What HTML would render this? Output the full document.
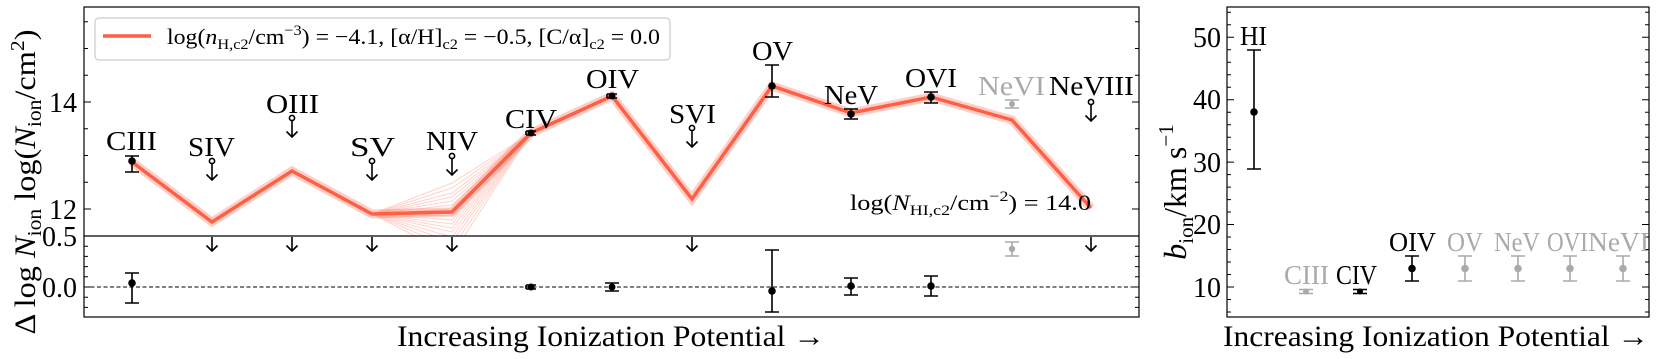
<!DOCTYPE html>
<html><head><meta charset="utf-8"><style>
html,body{margin:0;padding:0;background:#fff;}
svg{display:block;}
text{font-family:"Liberation Serif","DejaVu Serif",serif;}
</style></head><body>
<svg width="1661" height="359" viewBox="0 0 1661 359" xmlns="http://www.w3.org/2000/svg">
<defs>
<clipPath id="cu"><rect x="84" y="7" width="1055" height="229"/></clipPath>
</defs>
<g clip-path="url(#cu)" stroke="#ff5f45" stroke-width="1" fill="none" opacity="0.28">
<polyline points="372,214 452,183 531,133"/>
<polyline points="372,214 452,188 531,133"/>
<polyline points="372,214 452,193 531,133"/>
<polyline points="372,214 452,197 531,133"/>
<polyline points="372,214 452,201 531,133"/>
<polyline points="372,214 452,205 531,133"/>
<polyline points="372,214 452,209 531,133"/>
<polyline points="372,214 452,216 531,133"/>
<polyline points="372,214 452,220 531,133"/>
<polyline points="372,214 452,224 531,133"/>
<polyline points="372,214 452,228 531,133"/>
<polyline points="372,214 452,232 531,133"/>
<polyline points="372,214 452,237 531,133"/>
<polyline points="372,214 452,242 531,133"/>
<polyline points="372,214 452,248 531,133"/>
<polyline points="372,214 452,255 531,133"/>
</g>
<g clip-path="url(#cu)" fill="none">
<polyline points="132,162 212,222 292,171 372,214 452,212 531,133 612,96 692,199 772,86 851,113 931,97 1012,120 1091,208" stroke="#ff5f45" stroke-width="9" opacity="0.3"/>
<polyline points="132,162 212,222 292,171 372,214 452,212 531,133 612,96 692,199 772,86 851,113 931,97 1012,120 1091,208" stroke="#ff5f45" stroke-width="3.5"/>
</g>
<g fill="none" stroke="#000" stroke-width="1.2">
<rect x="84" y="7" width="1055" height="310"/>
<line x1="84" y1="236" x2="1139" y2="236"/>
<rect x="1227" y="7" width="422" height="310"/>
</g>
<line x1="84" y1="287" x2="1139" y2="287" stroke="#000" stroke-width="1" stroke-dasharray="4,2.5"/>
<g stroke="#000" stroke-width="1">
<path d="M84,209h7M84,102h7M1139,209h-7M1139,102h-7"/>
<path d="M84,182.3h4M84,155.5h4M84,128.8h4M84,75.3h4M84,48.5h4M84,21.8h4M1139,182.3h-4M1139,155.5h-4M1139,128.8h-4M1139,75.3h-4M1139,48.5h-4M1139,21.8h-4"/>
<path d="M84,287h7M1139,287h-7M84,236h7M1139,236h-7"/>
<path d="M84,246.2h4M84,256.4h4M84,266.6h4M84,276.8h4M84,297.2h4M84,307.4h4M1139,246.2h-4M1139,256.4h-4M1139,266.6h-4M1139,276.8h-4M1139,297.2h-4M1139,307.4h-4"/>
<path d="M1227,37.3h7M1227,99.7h7M1227,162.1h7M1227,224.5h7M1227,287h7M1649,37.3h-7M1649,99.7h-7M1649,162.1h-7M1649,224.5h-7M1649,287h-7"/>
<path d="M1227,12.3h4M1227,24.8h4M1227,49.8h4M1227,62.3h4M1227,74.8h4M1227,87.2h4M1227,112.2h4M1227,124.7h4M1227,137.2h4M1227,149.6h4M1227,174.6h4M1227,187.1h4M1227,199.6h4M1227,212.0h4M1227,237.0h4M1227,249.5h4M1227,262.0h4M1227,274.5h4M1227,299.5h4M1227,312h4"/>
<path d="M1649,12.3h-4M1649,24.8h-4M1649,49.8h-4M1649,62.3h-4M1649,74.8h-4M1649,87.2h-4M1649,112.2h-4M1649,124.7h-4M1649,137.2h-4M1649,149.6h-4M1649,174.6h-4M1649,187.1h-4M1649,199.6h-4M1649,212.0h-4M1649,237.0h-4M1649,249.5h-4M1649,262.0h-4M1649,274.5h-4M1649,299.5h-4M1649,312h-4"/>
</g>
<g font-size="28" text-anchor="end" fill="#000">
<text x="77" y="112">14</text>
<text x="77" y="219">12</text>
<text x="77" y="246">0.5</text>
<text x="77" y="297">0.0</text>
<text x="1221" y="47">50</text>
<text x="1221" y="109">40</text>
<text x="1221" y="172">30</text>
<text x="1221" y="234">20</text>
<text x="1221" y="297">10</text>
</g>
<text transform="translate(35,182) rotate(-90)" font-size="30" text-anchor="middle" textLength="305" lengthAdjust="spacingAndGlyphs">Δ log <tspan font-style="italic">N</tspan><tspan font-size="20" dy="6">ion</tspan><tspan dy="-6"> log(</tspan><tspan font-style="italic">N</tspan><tspan font-size="20" dy="6">ion</tspan><tspan dy="-6">/cm</tspan><tspan font-size="20" dy="-11">2</tspan><tspan dy="11">)</tspan></text>
<text transform="translate(1186,192) rotate(-90)" font-size="32" text-anchor="middle"><tspan font-style="italic">b</tspan><tspan font-size="21" dy="7">ion</tspan><tspan dy="-7">/km s</tspan><tspan font-size="21" dy="-13">−1</tspan></text>
<text x="397" y="346" font-size="30" textLength="428" lengthAdjust="spacingAndGlyphs">Increasing Ionization Potential →</text>
<text x="1223" y="346" font-size="30" textLength="426" lengthAdjust="spacingAndGlyphs">Increasing Ionization Potential →</text>
<rect x="95" y="18" width="575" height="42" rx="4" fill="#fff" fill-opacity="0.85" stroke="#ccc" stroke-width="1.2"/>
<line x1="103" y1="36" x2="151" y2="36" stroke="#ff5f45" stroke-width="3.5"/>
<text x="167" y="44" font-size="22" textLength="493" lengthAdjust="spacingAndGlyphs">log(<tspan font-style="italic">n</tspan><tspan font-size="15" dy="5">H,c2</tspan><tspan dy="-5">/cm</tspan><tspan font-size="15" dy="-9">−3</tspan><tspan dy="9">) = −4.1, [α/H]</tspan><tspan font-size="15" dy="5">c2</tspan><tspan dy="-5"> = −0.5, [C/α]</tspan><tspan font-size="15" dy="5">c2</tspan><tspan dy="-5"> = 0.0</tspan></text>
<text x="850" y="210" font-size="22" textLength="241" lengthAdjust="spacingAndGlyphs">log(<tspan font-style="italic">N</tspan><tspan font-size="15" dy="5">HI,c2</tspan><tspan dy="-5">/cm</tspan><tspan font-size="15" dy="-9">−2</tspan><tspan dy="9">) = 14.0</tspan></text>
<g font-size="27" fill="#000">
<text x="106" y="150" textLength="51" lengthAdjust="spacingAndGlyphs">CIII</text>
<text x="188" y="156" textLength="47" lengthAdjust="spacingAndGlyphs">SIV</text>
<text x="266" y="113" textLength="53" lengthAdjust="spacingAndGlyphs">OIII</text>
<text x="350" y="156" textLength="45" lengthAdjust="spacingAndGlyphs">SV</text>
<text x="426" y="150" textLength="52" lengthAdjust="spacingAndGlyphs">NIV</text>
<text x="505" y="128" textLength="52" lengthAdjust="spacingAndGlyphs">CIV</text>
<text x="586" y="88" textLength="53" lengthAdjust="spacingAndGlyphs">OIV</text>
<text x="669" y="123" textLength="47" lengthAdjust="spacingAndGlyphs">SVI</text>
<text x="752" y="60" textLength="41" lengthAdjust="spacingAndGlyphs">OV</text>
<text x="824" y="104" textLength="54" lengthAdjust="spacingAndGlyphs">NeV</text>
<text x="905" y="87" textLength="52" lengthAdjust="spacingAndGlyphs">OVI</text>
<text x="978" y="95" textLength="67" lengthAdjust="spacingAndGlyphs" fill="#aaa">NeVI</text>
<text x="1049" y="95" textLength="85" lengthAdjust="spacingAndGlyphs">NeVIII</text>
</g>
<g stroke="#000" stroke-width="1.6" fill="none">
<path d="M132,156V172M125,156h14M125,172h14"/>
<path d="M526,131V135M526,131h10M526,135h10"/>
<path d="M607,94V98M607,94h10M607,98h10"/>
<path d="M772,65V97M765,65h14M765,97h14"/>
<path d="M851,109V119M844,109h14M844,119h14"/>
<path d="M931,92V103M924,92h14M924,103h14"/>
<path d="M1012,100V108M1005,100h14M1005,108h14" stroke="#aaa"/>
</g>
<g fill="#000">
<circle cx="132" cy="161" r="3.8"/><circle cx="531" cy="133" r="3.5"/><circle cx="612" cy="96" r="3.5"/>
<circle cx="772" cy="86" r="3.8"/><circle cx="851" cy="114" r="3.8"/><circle cx="931" cy="97" r="3.8"/>
<circle cx="1012" cy="104" r="3" fill="#aaa"/>
</g>
<g stroke="#000" stroke-width="1.6" fill="#fff">
<g transform="translate(212,161)"><path d="M0,2V19M-5.5,13.5L0,19L5.5,13.5" fill="none"/><circle r="2.6"/></g>
<g transform="translate(292,118)"><path d="M0,2V19M-5.5,13.5L0,19L5.5,13.5" fill="none"/><circle r="2.6"/></g>
<g transform="translate(372,161)"><path d="M0,2V19M-5.5,13.5L0,19L5.5,13.5" fill="none"/><circle r="2.6"/></g>
<g transform="translate(452,156)"><path d="M0,2V19M-5.5,13.5L0,19L5.5,13.5" fill="none"/><circle r="2.6"/></g>
<g transform="translate(692,128)"><path d="M0,2V19M-5.5,13.5L0,19L5.5,13.5" fill="none"/><circle r="2.6"/></g>
<g transform="translate(1091,102)"><path d="M0,2V19M-5.5,13.5L0,19L5.5,13.5" fill="none"/><circle r="2.6"/></g>
</g>
<g stroke="#000" stroke-width="1.6" fill="none">
<path d="M212,237V251M206.5,245.5L212,251L217.5,245.5"/>
<path d="M292,237V251M286.5,245.5L292,251L297.5,245.5"/>
<path d="M372,237V251M366.5,245.5L372,251L377.5,245.5"/>
<path d="M452,237V251M446.5,245.5L452,251L457.5,245.5"/>
<path d="M692,237V251M686.5,245.5L692,251L697.5,245.5"/>
<path d="M1091,237V251M1085.5,245.5L1091,251L1096.5,245.5"/>
<path d="M132,273V303M125,273h14M125,303h14"/>
<path d="M526,285V289M526,285h10M526,289h10"/>
<path d="M612,283V291M605,283h14M605,291h14"/>
<path d="M772,250V312M765,250h14M765,312h14"/>
<path d="M851,278V295M844,278h14M844,295h14"/>
<path d="M931,276V296M924,276h14M924,296h14"/>
<path d="M1012,242V256M1005,242h14M1005,256h14" stroke="#aaa"/>
</g>
<g fill="#000">
<circle cx="132" cy="283" r="3.8"/><circle cx="531" cy="287" r="3.5"/><circle cx="612" cy="287" r="3.5"/>
<circle cx="772" cy="291" r="3.8"/><circle cx="851" cy="286" r="3.8"/><circle cx="931" cy="286" r="3.8"/>
<circle cx="1012" cy="249" r="3.2" fill="#aaa"/>
</g>
<g stroke-width="1.6" fill="none">
<path d="M1254,50V169M1247,50h14M1247,169h14" stroke="#000"/>
<path d="M1306,289.5V293.5M1299,289.5h14M1299,293.5h14" stroke="#aaa"/>
<path d="M1360,289.5V293.5M1353,289.5h14M1353,293.5h14" stroke="#000"/>
<path d="M1412,256V281M1405,256h14M1405,281h14" stroke="#000"/>
<path d="M1465,256V281M1458,256h14M1458,281h14" stroke="#aaa"/>
<path d="M1518,256V281M1511,256h14M1511,281h14" stroke="#aaa"/>
<path d="M1570,256V281M1563,256h14M1563,281h14" stroke="#aaa"/>
<path d="M1623,256V281M1616,256h14M1616,281h14" stroke="#aaa"/>
</g>
<g>
<circle cx="1254" cy="112" r="3.8" fill="#000"/>
<circle cx="1306" cy="291.5" r="3" fill="#aaa"/>
<circle cx="1360" cy="291.5" r="3" fill="#000"/>
<circle cx="1412" cy="268.5" r="3.8" fill="#000"/>
<circle cx="1465" cy="268.5" r="3.8" fill="#aaa"/>
<circle cx="1518" cy="268.5" r="3.8" fill="#aaa"/>
<circle cx="1570" cy="268.5" r="3.8" fill="#aaa"/>
<circle cx="1623" cy="268.5" r="3.8" fill="#aaa"/>
</g>
<g font-size="27">
<text x="1240" y="45" textLength="27" lengthAdjust="spacingAndGlyphs" fill="#000">HI</text>
<text x="1284" y="284" textLength="45" lengthAdjust="spacingAndGlyphs" fill="#aaa">CIII</text>
<text x="1336" y="284" textLength="41" lengthAdjust="spacingAndGlyphs" fill="#000">CIV</text>
<text x="1389" y="251" textLength="47" lengthAdjust="spacingAndGlyphs" fill="#000">OIV</text>
<text x="1447" y="251" textLength="36" lengthAdjust="spacingAndGlyphs" fill="#aaa">OV</text>
<text x="1494" y="251" textLength="46" lengthAdjust="spacingAndGlyphs" fill="#aaa">NeV</text>
<text x="1547" y="251" textLength="41" lengthAdjust="spacingAndGlyphs" fill="#aaa">OVI</text>
<text x="1588" y="251" textLength="61" lengthAdjust="spacingAndGlyphs" fill="#aaa">NeVI</text>
</g>
</svg>
</body></html>
